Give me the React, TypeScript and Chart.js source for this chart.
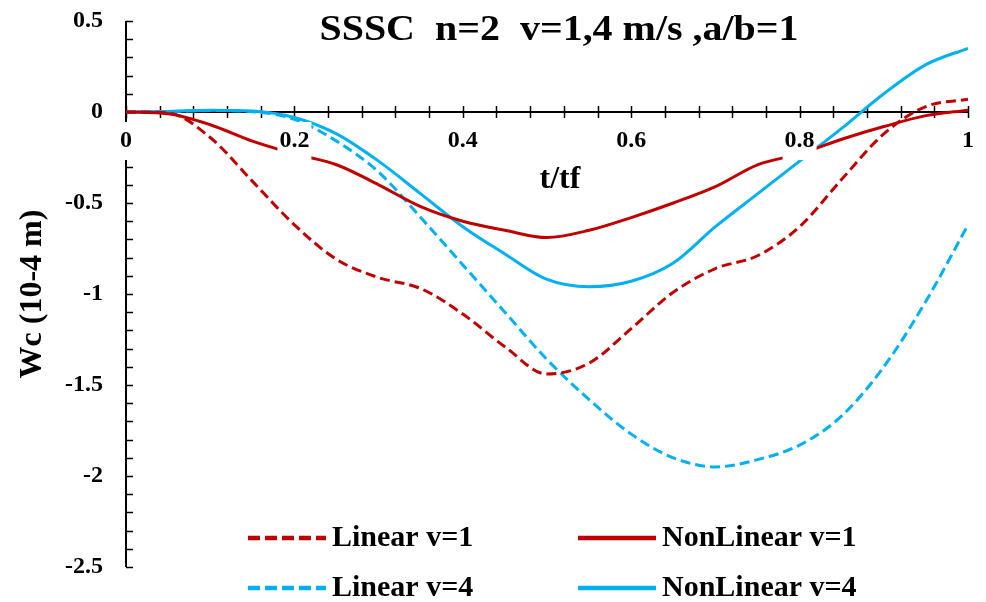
import React, { useEffect, useRef } from "react";
import { Chart, registerables } from "chart.js";

Chart.register(...registerables);

// Normalised time t/tf
const T = [0, 0.05, 0.1, 0.15, 0.2, 0.25, 0.3, 0.35, 0.4, 0.45, 0.5, 0.55, 0.6, 0.65, 0.7, 0.75, 0.8, 0.85, 0.9, 0.95, 1.0];

// Central deflection Wc (10-4 m)
const linearV1 = [0, -0.005, -0.14, -0.38, -0.62, -0.81, -0.91, -0.97, -1.11, -1.29, -1.44, -1.38, -1.19, -0.99, -0.86, -0.79, -0.63, -0.37, -0.12, 0.03, 0.07];
const nonLinearV1 = [0, -0.01, -0.07, -0.16, -0.23, -0.29, -0.4, -0.52, -0.6, -0.65, -0.69, -0.65, -0.58, -0.5, -0.41, -0.29, -0.23, -0.15, -0.08, -0.02, 0.01];
const linearV4 = [0, 0.002, 0.008, 0.002, -0.04, -0.16, -0.33, -0.58, -0.84, -1.1, -1.36, -1.58, -1.77, -1.9, -1.95, -1.91, -1.83, -1.67, -1.4, -1.04, -0.62];
const nonLinearV4 = [0, 0.003, 0.01, 0.005, -0.03, -0.12, -0.27, -0.45, -0.63, -0.78, -0.92, -0.96, -0.93, -0.83, -0.63, -0.45, -0.27, -0.09, 0.1, 0.26, 0.35];

const xTickLabels = ["0", "0.2", "0.4", "0.6", "0.8", "1"];
const xTickValues = [0, 0.2, 0.4, 0.6, 0.8, 1];
const yTickLabels = ["0.5", "0", "-0.5", "-1", "-1.5", "-2", "-2.5"];
const yTickValues = [0.5, 0, -0.5, -1, -1.5, -2, -2.5];

const TITLE = "SSSC  n=2  v=1,4 m/s ,a/b=1";
const X_TITLE = "t/tf";
const Y_TITLE = "Wc (10-4 m)";

const RED = "#C00000";
const BLUE = "#00B0F0";
const FONT = "'Liberation Serif', 'Times New Roman', serif";

const legendItems = [
  { label: "Linear v=1", color: RED, dash: true },
  { label: "NonLinear v=1", color: RED, dash: false },
  { label: "Linear v=4", color: BLUE, dash: true },
  { label: "NonLinear v=4", color: BLUE, dash: false },
];

const pts = (ys: number[]) => T.map((t, i) => ({ x: t, y: ys[i] }));

const axesPlugin = {
  id: "axesPlugin",
  beforeDatasetsDraw(chart: any) {
    const { ctx, scales } = chart;
    const xs = scales.x;
    const ys = scales.y;
    const x0 = xs.getPixelForValue(0);
    const y0 = ys.getPixelForValue(0);
    ctx.save();
    ctx.strokeStyle = "#000";
    ctx.lineWidth = 2;
    ctx.beginPath();
    ctx.moveTo(x0, ys.getPixelForValue(0.5));
    ctx.lineTo(x0, ys.getPixelForValue(-2.5));
    ctx.moveTo(x0, y0);
    ctx.lineTo(xs.getPixelForValue(1), y0);
    ctx.stroke();
    ctx.lineWidth = 1.5;
    ctx.beginPath();
    // minor/major ticks: y every 0.1 (inside), x every 0.04 (crossing)
    for (let k = 0; k <= 30; k++) {
      const v = 0.5 - k * 0.1;
      const py = Math.round(ys.getPixelForValue(v)) + 0.5;
      ctx.moveTo(x0, py);
      ctx.lineTo(x0 + 7, py);
    }
    for (let k = 0; k <= 25; k++) {
      const px = Math.round(xs.getPixelForValue(k * 0.04)) + 0.5;
      ctx.moveTo(px, y0 - 6);
      ctx.lineTo(px, y0 + 6);
    }
    ctx.stroke();
    ctx.restore();
  },
  afterDatasetsDraw(chart: any) {
    const { ctx, scales } = chart;
    const xs = scales.x;
    const ys = scales.y;
    const x0 = xs.getPixelForValue(0);
    const y0 = ys.getPixelForValue(0);
    ctx.save();
    ctx.fillStyle = "#000";
    ctx.textBaseline = "middle";

    // x tick labels sit on white boxes below the axis
    ctx.font = `bold 24px ${FONT}`;
    ctx.textAlign = "center";
    xTickValues.forEach((v, i) => {
      const px = xs.getPixelForValue(v);
      const w = ctx.measureText(xTickLabels[i]).width;
      ctx.fillStyle = "#fff";
      ctx.fillRect(px - w / 2 - 2, y0 + 10, w + 4, 38);
      ctx.fillStyle = "#000";
      ctx.fillText(xTickLabels[i], px, y0 + 29);
    });

    // y tick labels
    ctx.textAlign = "right";
    yTickValues.forEach((v, i) => {
      ctx.fillText(yTickLabels[i], x0 - 23, ys.getPixelForValue(v));
    });

    // chart title, slightly widened
    ctx.textAlign = "center";
    ctx.font = `bold 36px ${FONT}`;
    ctx.save();
    ctx.translate(559, 31);
    ctx.scale(1.11, 1);
    ctx.fillText(TITLE, 0, 0);
    ctx.restore();

    // axis titles
    ctx.font = `bold 32px ${FONT}`;
    ctx.fillText(X_TITLE, 560, 180);
    ctx.save();
    ctx.translate(33, 294);
    ctx.rotate(-Math.PI / 2);
    ctx.fillText(Y_TITLE, 0, 0);
    ctx.restore();

    // legend, two rows by two columns
    const cols = [248, 578];
    const rows = [538, 588];
    legendItems.forEach((it, i) => {
      const lx = cols[i % 2];
      const ly = rows[Math.floor(i / 2)];
      ctx.strokeStyle = it.color;
      ctx.lineWidth = 4.5;
      ctx.setLineDash(it.dash ? [12, 5] : []);
      ctx.beginPath();
      ctx.moveTo(lx, ly);
      ctx.lineTo(lx + 78, ly);
      ctx.stroke();
      ctx.setLineDash([]);
      ctx.fillStyle = "#000";
      ctx.textAlign = "left";
      ctx.font = `bold 30px ${FONT}`;
      ctx.fillText(it.label, lx + 84, ly);
    });
    ctx.restore();
  },
};

export default function App() {
  const ref = useRef<HTMLCanvasElement | null>(null);
  useEffect(() => {
    if (!ref.current) return;
    const ds = (label: string, data: number[], color: string, dashed: boolean) => ({
      label,
      data: pts(data),
      borderColor: color,
      backgroundColor: color,
      borderWidth: 3,
      borderDash: dashed ? [10, 5] : [],
      pointRadius: 0,
      cubicInterpolationMode: "monotone" as const,
      fill: false,
    });
    const chart = new Chart(ref.current, {
      type: "line",
      data: {
        datasets: [
          ds("Linear v=1", linearV1, RED, true),
          ds("NonLinear v=1", nonLinearV1, RED, false),
          ds("Linear v=4", linearV4, BLUE, true),
          ds("NonLinear v=4", nonLinearV4, BLUE, false),
        ],
      },
      options: {
        responsive: false,
        animation: false,
        layout: { padding: { left: 126, top: 21, right: 18, bottom: 35 } },
        plugins: { legend: { display: false }, tooltip: { enabled: false }, title: { display: false } },
        scales: {
          x: { type: "linear", min: 0, max: 1, display: false },
          y: { type: "linear", min: -2.5, max: 0.5, display: false },
        },
      },
      plugins: [axesPlugin],
    });
    return () => chart.destroy();
  }, []);
  return (
    <div style={{ position: "fixed", left: 0, top: 0, width: 986, height: 602, background: "#fff" }}>
      <canvas ref={ref} width={986} height={602} />
    </div>
  );
}
